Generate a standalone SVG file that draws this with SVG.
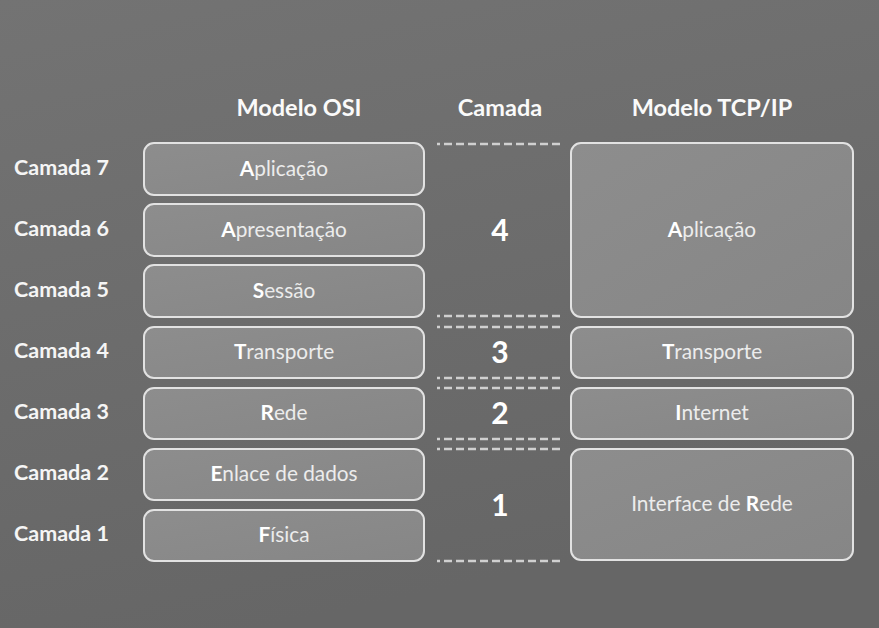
<svg xmlns="http://www.w3.org/2000/svg" width="879" height="628" viewBox="0 0 879 628">
<defs>
<linearGradient id="bg" x1="0" y1="0" x2="0.3" y2="1">
<stop offset="0" stop-color="#737373"/>
<stop offset="1" stop-color="#666666"/>
</linearGradient>
<linearGradient id="box" x1="0" y1="0" x2="1" y2="1">
<stop offset="0" stop-color="#8d8d8d"/>
<stop offset="1" stop-color="#868686"/>
</linearGradient>
<style>
.b{fill:url(#box);stroke:#e2e2e2;stroke-width:2}
.h{font-family:Lato,"Liberation Sans",sans-serif;font-weight:700;font-size:23.5px;fill:#fafafa;text-anchor:middle}
.l{font-family:Lato,"Liberation Sans",sans-serif;font-weight:700;font-size:21.5px;fill:#f5f5f5}
.t{font-family:Lato,"Liberation Sans",sans-serif;font-size:20.8px;fill:#ececec;text-anchor:middle}
.t tspan.k{font-weight:700;fill:#ffffff}
.n{font-family:Lato,"Liberation Sans",sans-serif;font-weight:700;font-size:30px;fill:#ffffff;text-anchor:middle}
.d{stroke:#d0d0d0;stroke-width:2.5;fill:none;stroke-dasharray:8 4;stroke-dashoffset:5}
</style>
</defs>
<rect width="879" height="628" fill="url(#bg)"/>
<g id="headers">
<text class="h" x="299" y="116">Modelo OSI</text>
<text class="h" x="500" y="116">Camada</text>
<text class="h" x="712" y="116">Modelo TCP/IP</text>
</g>
<g id="layer-labels">
<text class="l" x="14" y="175">Camada 7</text>
<text class="l" x="14" y="236">Camada 6</text>
<text class="l" x="14" y="297">Camada 5</text>
<text class="l" x="14" y="358">Camada 4</text>
<text class="l" x="14" y="419">Camada 3</text>
<text class="l" x="14" y="480">Camada 2</text>
<text class="l" x="14" y="541">Camada 1</text>
</g>
<g id="osi-7"><rect class="b" x="144" y="143" width="280" height="52" rx="10"/><text class="t" x="284" y="176"><tspan class="k">A</tspan>plicação</text></g>
<g id="osi-6"><rect class="b" x="144" y="204" width="280" height="52" rx="10"/><text class="t" x="284" y="237"><tspan class="k">A</tspan>presentação</text></g>
<g id="osi-5"><rect class="b" x="144" y="265" width="280" height="52" rx="10"/><text class="t" x="284" y="298"><tspan class="k">S</tspan>essão</text></g>
<g id="osi-4"><rect class="b" x="144" y="327" width="280" height="51" rx="10"/><text class="t" x="284" y="359"><tspan class="k">T</tspan>ransporte</text></g>
<g id="osi-3"><rect class="b" x="144" y="388" width="280" height="51" rx="10"/><text class="t" x="284" y="420"><tspan class="k">R</tspan>ede</text></g>
<g id="osi-2"><rect class="b" x="144" y="449" width="280" height="51" rx="10"/><text class="t" x="284" y="481"><tspan class="k">E</tspan>nlace de dados</text></g>
<g id="osi-1"><rect class="b" x="144" y="510" width="280" height="51" rx="10"/><text class="t" x="284" y="542"><tspan class="k">F</tspan>ísica</text></g>
<g id="tcp-app"><rect class="b" x="571" y="143" width="282" height="174" rx="10"/><text class="t" x="712" y="237"><tspan class="k">A</tspan>plicação</text></g>
<g id="tcp-transp"><rect class="b" x="571" y="327" width="282" height="51" rx="10"/><text class="t" x="712" y="359"><tspan class="k">T</tspan>ransporte</text></g>
<g id="tcp-internet"><rect class="b" x="571" y="388" width="282" height="51" rx="10"/><text class="t" x="712" y="420"><tspan class="k">I</tspan>nternet</text></g>
<g id="tcp-iface"><rect class="b" x="571" y="449" width="282" height="111" rx="10"/><text class="t" x="712" y="511">Interface de <tspan class="k">R</tspan>ede</text></g>
<g id="connectors">
<path class="d" d="M437 144H563M437 316H563M437 327H563M437 378H563M437 388H563M437 439H563M437 449H563M437 561H563"/>
</g>
<g id="numbers">
<text class="n" x="500" y="241">4</text>
<text class="n" x="500" y="363">3</text>
<text class="n" x="500" y="424">2</text>
<text class="n" x="500" y="516">1</text>
</g>
</svg>
